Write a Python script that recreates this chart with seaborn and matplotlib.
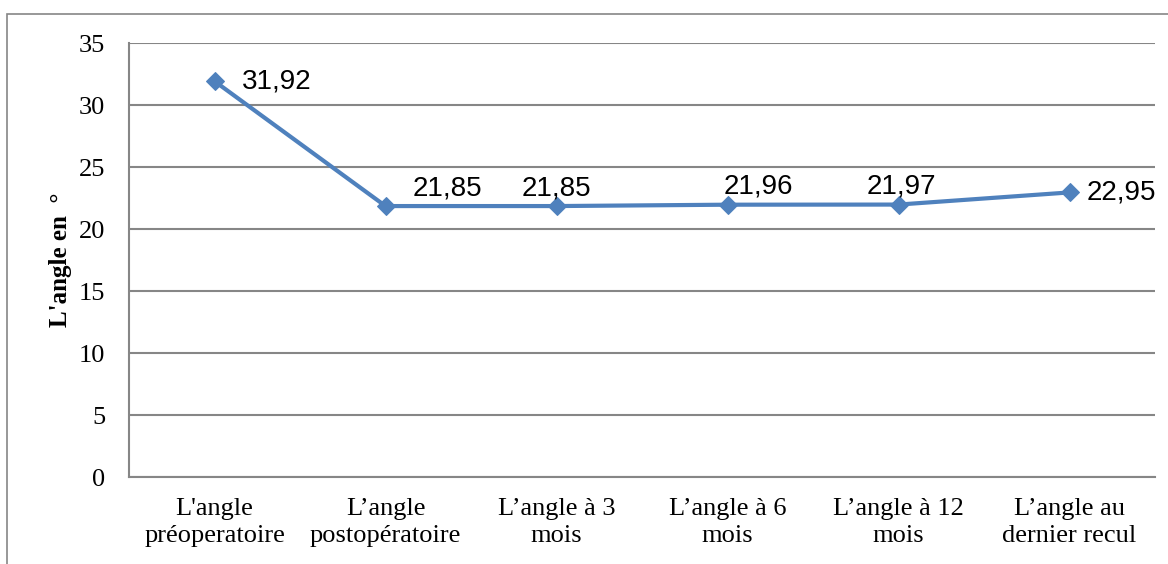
import matplotlib
matplotlib.use("Agg")
import matplotlib.pyplot as plt
import seaborn as sns
import pandas as pd
from matplotlib.patches import Rectangle

CATEGORIES = [
    "L'angle\npréoperatoire",
    "L\u2019angle\npostopératoire",
    "L\u2019angle à 3\nmois",
    "L\u2019angle à 6\nmois",
    "L\u2019angle à 12\nmois",
    "L\u2019angle au\ndernier recul",
]
VALUES = [31.92, 21.85, 21.85, 21.96, 21.97, 22.95]
VALUE_LABELS = ["31,92", "21,85", "21,85", "21,96", "21,97", "22,95"]
Y_TICKS = [0, 5, 10, 15, 20, 25, 30, 35]

# label placement in pixels relative to each point
LABEL_OFFSETS = [(27, 0, "left"), (27, 18, "left"), (0, 18, "center"),
                 (31, 18, "center"), (3, 18, "center"), (17, 0, "left")]

LINE_COLOR = "#4F81BD"
GRID_COLOR = "#868686"

sns.set_style("white")
plt.rcParams["font.family"] = ["Liberation Serif", "DejaVu Serif"]
for key in ["text.color", "xtick.color", "ytick.color", "axes.labelcolor"]:
    plt.rcParams[key] = "black"

df = pd.DataFrame({"pos": range(len(CATEGORIES)), "angle": VALUES})

fig = plt.figure(figsize=(11.68, 5.64), dpi=100)
ax = fig.add_axes([129 / 1168, 1 - 477 / 564, (1155 - 129) / 1168, (477 - 43) / 564])

sns.lineplot(data=df, x="pos", y="angle", ax=ax, color=LINE_COLOR, linewidth=3,
             marker="D", markersize=9, markeredgecolor=LINE_COLOR, zorder=3)

for i, (val, lab) in enumerate(zip(VALUES, VALUE_LABELS)):
    dx, dy, ha = LABEL_OFFSETS[i]
    ax.annotate(lab, (i, val), xytext=(dx, dy), textcoords="offset pixels",
                ha=ha, va="center", fontsize=20, family="Liberation Sans",
                color="black", annotation_clip=False, zorder=4)

ax.set_xlim(-0.5, len(CATEGORIES) - 0.5)
ax.set_ylim(0, 35)
ax.set_yticks(Y_TICKS)
ax.set_xticks(range(len(CATEGORIES)))
ax.set_xticklabels(CATEGORIES, fontsize=19, linespacing=1.3)
ax.tick_params(axis="y", labelsize=19, length=0, pad=17)
ax.tick_params(axis="x", length=0, pad=15)
ax.yaxis.grid(True, color=GRID_COLOR, linewidth=1.5)
ax.set_axisbelow(True)

for side in ["top", "right"]:
    ax.spines[side].set_visible(False)
for side in ["left", "bottom"]:
    ax.spines[side].set_color(GRID_COLOR)
    ax.spines[side].set_linewidth(1.5)

ax.set_xlabel("")
ax.set_ylabel("L'angle en  °", fontsize=18, fontweight="bold")
ax.yaxis.set_label_coords(-0.056, 0.50)

# outer chart frame (only top and left edges fall inside the picture)
fig.patches.append(Rectangle((7 / 1168, -0.1), 1.2, 1 - 14 / 564 + 0.1,
                             transform=fig.transFigure, fill=False,
                             edgecolor=GRID_COLOR, linewidth=1.2))

fig.savefig("out.png", dpi=100)
